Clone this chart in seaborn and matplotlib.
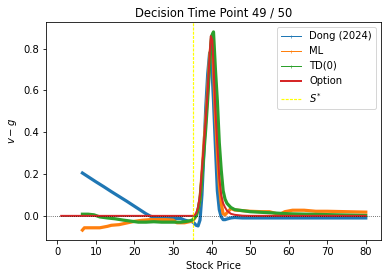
import numpy as np
import pandas as pd
import matplotlib
matplotlib.use("Agg")
import matplotlib.pyplot as plt
from matplotlib.lines import Line2D
import seaborn as sns

# ---- data ----
dong_x = [6.5, 8, 10, 12, 14, 16, 18, 20, 22, 23, 24, 25, 26, 28, 30, 32, 33, 34, 35,
          35.5, 36, 36.5, 37, 37.5, 38, 38.5, 39, 39.5, 40, 40.5, 41, 41.5, 42, 42.5,
          43, 43.5, 44, 45, 46, 48, 50, 55, 60, 65, 70, 75, 80]
dong_y = [0.205, 0.187, 0.163, 0.140, 0.116, 0.093, 0.070, 0.046, 0.022, 0.010, 0.0,
          -0.008, -0.010, -0.010, -0.012, -0.012, -0.020, -0.025, -0.028,
          -0.035, -0.045, -0.048, -0.02, 0.10, 0.30, 0.52, 0.68, 0.78, 0.74, 0.55,
          0.33, 0.12, 0.03, -0.005, -0.018, -0.018, -0.015, -0.01, -0.008, -0.01,
          -0.01, -0.01, -0.01, -0.01, -0.01, -0.01, -0.01]

ml_x = [6.5, 7, 9, 11, 13, 14, 16, 18, 20, 22, 24, 26, 28, 30, 31, 33, 35, 35.5,
        36, 36.5, 37, 37.5, 38, 38.5, 39, 39.5, 40, 40.5, 41, 41.5, 42, 42.5, 43,
        43.5, 44, 45, 46, 48, 50, 53, 55, 57, 58, 59, 61, 64, 67, 70, 75, 80]
ml_y = [-0.068, -0.057, -0.057, -0.057, -0.050, -0.045, -0.042, -0.034, -0.026,
        -0.021, -0.018, -0.018, -0.018, -0.020, -0.033, -0.033, -0.025, -0.015,
        0.0, 0.03, 0.08, 0.2, 0.34, 0.46, 0.6, 0.76, 0.85, 0.72, 0.48, 0.3, 0.15,
        0.06, 0.01, 0.005, 0.015, 0.035, 0.028, 0.025, 0.022, 0.02, 0.02, 0.01,
        0.01, 0.02, 0.027, 0.027, 0.022, 0.022, 0.02, 0.018]

td_x = [6.5, 8, 9.5, 11, 13, 15, 17, 19, 21, 23, 25, 27, 30, 32, 34, 35, 35.5, 36,
        36.5, 37, 37.5, 38, 38.5, 39, 39.5, 40, 40.5, 41, 41.5, 42, 42.5, 43, 43.5,
        44, 45, 46, 48, 50, 55, 60, 65, 70, 75, 80]
td_y = [0.008, 0.008, 0.005, -0.005, -0.010, -0.014, -0.020, -0.025, -0.030,
        -0.030, -0.028, -0.030, -0.030, -0.030, -0.025, -0.020, -0.010, 0.0, 0.03,
        0.08, 0.18, 0.3, 0.42, 0.56, 0.72, 0.86, 0.88, 0.7, 0.55, 0.35, 0.22, 0.12,
        0.08, 0.06, 0.04, 0.03, 0.025, 0.02, 0.015, 0.01, 0.008, 0.006, 0.004, 0.002]

opt_x = [1, 10, 20, 30, 35, 35.5, 36, 36.5, 37, 37.5, 38, 38.5, 39, 39.5, 39.8,
         40.2, 40.5, 41, 41.5, 42, 42.5, 43, 43.5, 44, 45, 46, 48, 50, 60, 70, 80]
opt_y = [0.0, 0.0, 0.0, 0.0, 0.0, 0.003, 0.012, 0.04, 0.1, 0.22, 0.34, 0.46, 0.6,
         0.77, 0.86, 0.84, 0.72, 0.5, 0.34, 0.18, 0.1, 0.06, 0.04, 0.025, 0.01,
         0.005, 0.001, 0.0, 0.0, 0.0, 0.0]

s_star = 35.3

labels = ["Dong (2024)", "ML", "TD(0)", "Option"]
colors = ["#1f77b4", "#ff7f0e", "#2ca02c", "#d62728"]
s_color = "#ffff00"

plt.rcParams['font.family'] = ['DejaVu Sans']
plt.rcParams['font.size'] = 10

fig, ax = plt.subplots(figsize=(388 / 72, 278 / 72), dpi=72)
fig.subplots_adjust(left=46 / 388, right=381 / 388, top=1 - 22 / 278, bottom=1 - 240 / 278)

series = [(dong_x, dong_y), (ml_x, ml_y), (td_x, td_y)]
for (xs, ys), col in zip(series, colors[:3]):
    df = pd.DataFrame({"x": xs, "y": ys})
    sns.lineplot(data=df, x="x", y="y", ax=ax, color=col,
                 linewidth=3.2, linestyle='-', dashes=False,
                 estimator=None, sort=False, legend=False)
dfo = pd.DataFrame({"x": opt_x, "y": opt_y})
sns.lineplot(data=dfo, x="x", y="y", ax=ax, color=colors[3],
             linewidth=2, linestyle='-', estimator=None, sort=False, legend=False)
s_ls = (0, (2.5, 1.0))
ax.axvline(s_star, color=s_color, ls=s_ls, lw=1.2)
ax.axhline(0, color='k', ls=':', lw=0.8, alpha=0.8)

handles = [Line2D([], [], color=c, lw=1, marker='+', markersize=3, markeredgewidth=0.6)
           for c in colors[:3]]
handles.append(Line2D([], [], color=colors[3], lw=2))
handles.append(Line2D([], [], color=s_color, ls=s_ls, lw=1.2))

ax.set_title("Decision Time Point 49 / 50", fontsize=11.5)
ax.set_xlabel("Stock Price", fontsize=10)
ax.set_ylabel("$v - g$", fontsize=10)
ax.tick_params(labelsize=10)
ax.set_xticks([0, 10, 20, 30, 40, 50, 60, 70, 80])
ax.set_yticks([0.0, 0.2, 0.4, 0.6, 0.8])
ax.legend(handles, labels + ['$S^{*}$'], loc='upper right', fontsize=10)

fig.savefig("out.png", dpi=72)
